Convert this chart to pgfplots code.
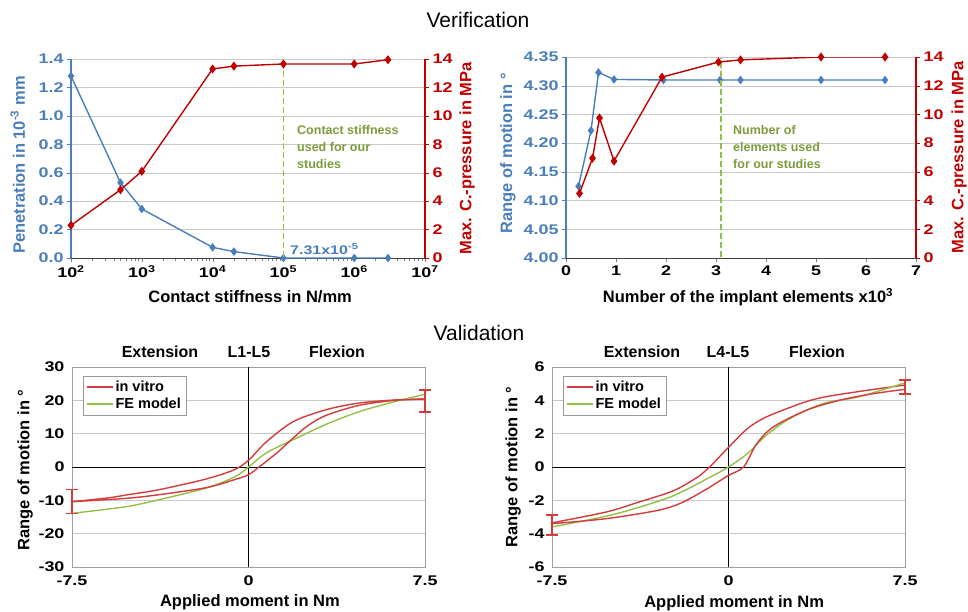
\documentclass[border=0pt]{standalone}
\usepackage{fontspec}
\setmainfont{Liberation Sans}
\newfontfamily\tickfont{Liberation Sans}[FakeStretch=1.28]
\usepackage{pgfplots}
\pgfplotsset{compat=1.18}

\definecolor{pblue}{HTML}{4A7EBB}
\definecolor{pred}{HTML}{C00000}
\definecolor{lred}{HTML}{D43B3B}
\definecolor{lgreen}{HTML}{92C047}
\definecolor{dgreen}{HTML}{7D9B3A}
\definecolor{gridgray}{HTML}{C8C8C8}

\pgfplotsset{
  topax/.style={
    scale only axis,
    /pgf/number format/assume math mode=true,
    ticklabel style={font=\fontsize{14}{16}\selectfont\tickfont\bfseries},
    label style={font=\fontsize{16.5}{18}\selectfont\bfseries},
    tick align=outside, major tick length=4pt,
  },
  botax/.style={
    scale only axis, width=353pt, height=200pt,
    /pgf/number format/assume math mode=true,
    xmin=-7.5, xmax=7.5, xtick={-7.5,0,7.5}, xticklabels={-7.5,0,7.5},
    major tick length=0pt,
    axis line style={gray!75},
    ymajorgrids, grid style={gridgray},
    ticklabel style={font=\fontsize{14}{16}\selectfont\tickfont\bfseries},
    xticklabel style={yshift=-5pt},
    yticklabel style={xshift=-4pt},
    label style={font=\fontsize{16.5}{18}\selectfont\bfseries},
    xlabel={Applied moment in Nm},
    ylabel={Range of motion in °},
    clip=false,
    legend style={at={(0.03,0.955)}, anchor=north west, draw=gray!80,
      font=\fontsize{14.5}{16}\selectfont\bfseries, row sep=1pt, inner sep=3pt},
    legend cell align=left,
    legend image code/.code={\draw[#1, line width=1.8pt] (0pt,0pt) -- (26pt,0pt);},
  },
  ebar/.style={forget plot, lred, mark=none,
    error bars/.cd, y dir=both, y explicit,
    error bar style={line width=1.5pt, lred},
    error mark options={rotate=90, lred, mark size=6pt, line width=1.5pt}},
  vline/.style={forget plot, draw=lgreen, line width=1.8pt, dash pattern=on 6pt off 3pt, mark=none},
}

\begin{document}
\begin{tikzpicture}
\useasboundingbox (0,0) rectangle (968pt,-611pt);
\clip (0,0) rectangle (968pt,-611pt);

\node[font=\fontsize{21}{23}\selectfont] at (478pt,-20pt) {Verification};
\node[font=\fontsize{21}{23}\selectfont] at (479pt,-333pt) {Validation};

% ---- contact stiffness
\begin{axis}[topax, at={(71pt,-258pt)}, width=354pt, height=199pt,
  xmode=log, xmin=100, xmax=1e7,
  xtick={100,1000,10000,100000,1000000,10000000},
  xticklabels={10\textsuperscript{2},10\textsuperscript{3},10\textsuperscript{4},10\textsuperscript{5},10\textsuperscript{6},10\textsuperscript{7}},
  minor xtick={},
  ymin=0, ymax=1.4, ytick={0,0.2,0.4,0.6,0.8,1.0,1.2,1.4},
  yticklabel style={pblue, /pgf/number format/.cd, fixed, fixed zerofill, precision=1},
  axis y line*=left, axis x line*=bottom,
  ymajorgrids, grid style={gridgray},
  y axis line style={pblue, line width=1.2pt}, ytick style={pblue},
  x axis line style={black!75},
  ylabel={Penetration in 10\textsuperscript{-3} mm},
  ylabel style={pblue, at={(axis description cs:-0.150,0.467)}, anchor=center},
  xlabel={Contact stiffness in N/mm},
  xlabel style={at={(axis description cs:0.506,-0.196)}, anchor=center},
]
\addplot[pblue, line width=1.4pt, mark=diamond*, mark size=3.2pt] coordinates {
 (100,1.28) (500,0.53) (1000,0.345) (10000,0.075) (20000,0.045)
 (100000,0.0000731) (1000000,0) (3000000,0)};
\end{axis}
\begin{axis}[topax, at={(71pt,-258pt)}, width=354pt, height=199pt,
  xmode=log, xmin=100, xmax=1e7, axis x line=none,
  axis y line*=right, ymin=0, ymax=14, ytick={0,2,...,14},
  yticklabel style={pred}, y axis line style={pred, line width=1.2pt}, ytick style={pred},
  ylabel={Max. C.-pressure in MPa},
  ylabel style={pred, at={(axis description cs:1.119,0.5)}, anchor=center},
]
\addplot[vline] coordinates {(100000,0.05) (100000,13.95)};
\addplot[pred, line width=1.4pt, mark=diamond*, mark size=3.4pt] coordinates {
 (100,2.3) (500,4.8) (1000,6.1) (10000,13.3) (20000,13.5)
 (100000,13.65) (1000000,13.65) (3000000,13.95)};
\end{axis}
\node[dgreen, anchor=north west, align=left, inner sep=0pt,
  font=\fontsize{12.5}{17}\selectfont\bfseries] at (297pt,-125pt)
  {Contact stiffness\\used for our\\studies};
\node[pblue, anchor=west, inner sep=0pt, font=\fontsize{12.5}{15}\selectfont\tickfont\bfseries]
  at (290pt,-249pt) {7.31x10\textsuperscript{-5}};

% ---- element number
\begin{axis}[topax, at={(566pt,-258pt)}, width=350pt, height=201pt,
  xmin=0, xmax=7, xtick={0,1,...,7},
  ymin=4, ymax=4.35, ytick={4.00,4.05,4.10,4.15,4.20,4.25,4.30,4.35},
  yticklabel style={pblue, /pgf/number format/.cd, fixed, fixed zerofill, precision=2},
  axis y line*=left, axis x line*=bottom,
  ymajorgrids, grid style={gridgray},
  y axis line style={pblue, line width=1.2pt}, ytick style={pblue},
  x axis line style={black!75},
  ylabel={Range of motion in °},
  ylabel style={pblue, at={(axis description cs:-0.166,0.52)}, anchor=center},
  xlabel={Number of the implant elements x10\textsuperscript{3}},
  xlabel style={at={(axis description cs:0.52,-0.194)}, anchor=center},
]
\addplot[pblue, line width=1.4pt, mark=diamond*, mark size=3.2pt] coordinates {
 (0.25,4.125) (0.5,4.222) (0.65,4.323) (0.96,4.311) (1.95,4.31)
 (3.08,4.31) (3.49,4.31) (5.1,4.31) (6.38,4.31)};
\end{axis}
\begin{axis}[topax, at={(566pt,-258pt)}, width=350pt, height=201pt,
  xmin=0, xmax=7, axis x line=none,
  axis y line*=right, ymin=0, ymax=14, ytick={0,2,...,14},
  yticklabel style={pred}, y axis line style={pred, line width=1.2pt}, ytick style={pred},
  ylabel={Max. C.-pressure in MPa},
  ylabel style={pred, at={(axis description cs:1.123,0.5)}, anchor=center},
]
\addplot[vline] coordinates {(3.1,0.05) (3.1,13.95)};
\addplot[pred, line width=1.4pt, mark=diamond*, mark size=3.4pt] coordinates {
 (0.27,4.5) (0.53,6.95) (0.67,9.75) (0.96,6.75) (1.92,12.6)
 (3.05,13.65) (3.49,13.8) (5.1,14.0) (6.38,14.0)};
\end{axis}
\node[dgreen, anchor=north west, align=left, inner sep=0pt,
  font=\fontsize{12.5}{17}\selectfont\bfseries] at (733pt,-125pt)
  {Number of\\elements used\\for our studies};

% ---- L1-L5
\begin{axis}[botax, at={(72pt,-567pt)}, ymin=-30, ymax=30, ytick={-30,-20,...,30},
  ylabel style={at={(axis description cs:-0.133,0.485)}, anchor=center},
  xlabel style={at={(axis description cs:0.504,-0.175)}, anchor=center}]
\draw[black] (axis cs:0,-30) -- (axis cs:0,30);
\draw[black] (axis cs:-7.5,0) -- (axis cs:7.5,0);
\addplot[lred, line width=1.4pt, smooth, tension=0.5] coordinates {
 (-7.5,-10.4) (-6,-9.3) (-5.2,-8.4) (-3.8,-6.8) (-1.8,-3.6) (-0.6,-0.8)
 (0,2.0) (0.75,7.5) (1.9,13.6) (3.3,17.2) (4.7,19.2) (6.2,20.1) (7.5,20.4)};
\addlegendentry{in vitro}
\addplot[lgreen, line width=1.4pt, smooth, tension=0.5] coordinates {
 (-7.5,-13.9) (-5.2,-11.9) (-3.8,-9.8) (-1.8,-6.3) (-0.6,-3.0) (0,0)
 (0.75,4.2) (1.9,8.2) (3.3,12.8) (4.7,16.6) (6.2,19.6) (7.5,21.8)};
\addlegendentry{FE model}
\addplot[lred, line width=1.4pt, smooth, tension=0.5, forget plot] coordinates {
 (-7.5,-10.4) (-5.2,-9.4) (-3.8,-8.3) (-1.8,-6.2) (-0.6,-3.8) (0,-2.3)
 (0.5,0.3) (1.2,4.2) (1.9,8.7) (2.5,12.3) (3.3,15.5) (4.7,18.5) (6.2,20.0) (7.5,20.4)};
\addplot[ebar] coordinates {(7.5,19.8) +- (0,3.3)};
\addplot[ebar] coordinates {(-7.5,-10.35) +- (0,3.55)};
\end{axis}
\node[font=\fontsize{16}{18}\selectfont\bfseries] at (160pt,-352pt) {Extension};
\node[font=\fontsize{16}{18}\selectfont\bfseries] at (249pt,-352pt) {L1-L5};
\node[font=\fontsize{16}{18}\selectfont\bfseries] at (337pt,-352pt) {Flexion};

% ---- L4-L5
\begin{axis}[botax, at={(552pt,-567pt)}, ymin=-6, ymax=6, ytick={-6,-4,...,6},
  ylabel style={at={(axis description cs:-0.11,0.5)}, anchor=center},
  xlabel style={at={(axis description cs:0.516,-0.18)}, anchor=center}]
\draw[black] (axis cs:0,-6) -- (axis cs:0,6);
\draw[black] (axis cs:-7.5,0) -- (axis cs:7.5,0);
\addplot[lred, line width=1.4pt, smooth, tension=0.5] coordinates {
 (-7.5,-3.35) (-5.2,-2.7) (-3.8,-2.1) (-2.3,-1.4) (-1.2,-0.5) (-0.8,0.0)
 (0,1.18) (0.8,2.3) (1.6,3.0) (3.05,3.8) (4.0,4.18) (5.5,4.52) (7.5,4.92)};
\addlegendentry{in vitro}
\addplot[lgreen, line width=1.4pt, smooth, tension=0.5] coordinates {
 (-7.5,-3.6) (-5.2,-2.95) (-3.76,-2.4) (-2.3,-1.7) (-0.9,-0.7) (0,0)
 (0.8,0.8) (1.6,1.9) (2.6,2.9) (4.0,3.8) (5.5,4.2) (7.5,5.05)};
\addlegendentry{FE model}
\addplot[lred, line width=1.4pt, smooth, tension=0.5, forget plot] coordinates {
 (-7.5,-3.4) (-5.2,-3.1) (-3.0,-2.6) (-2.0,-2.15) (-0.9,-1.3) (0,-0.5)
 (0.64,0.0) (1.2,1.4) (1.9,2.4) (3.3,3.4) (4.7,4.0) (6.15,4.4) (7.5,4.66)};
\addplot[ebar] coordinates {(7.5,4.8) +- (0,0.42)};
\addplot[ebar] coordinates {(-7.5,-3.48) +- (0,0.6)};
\end{axis}
\node[font=\fontsize{16}{18}\selectfont\bfseries] at (642pt,-352pt) {Extension};
\node[font=\fontsize{16}{18}\selectfont\bfseries] at (728pt,-352pt) {L4-L5};
\node[font=\fontsize{16}{18}\selectfont\bfseries] at (817pt,-352pt) {Flexion};
\end{tikzpicture}
\end{document}
